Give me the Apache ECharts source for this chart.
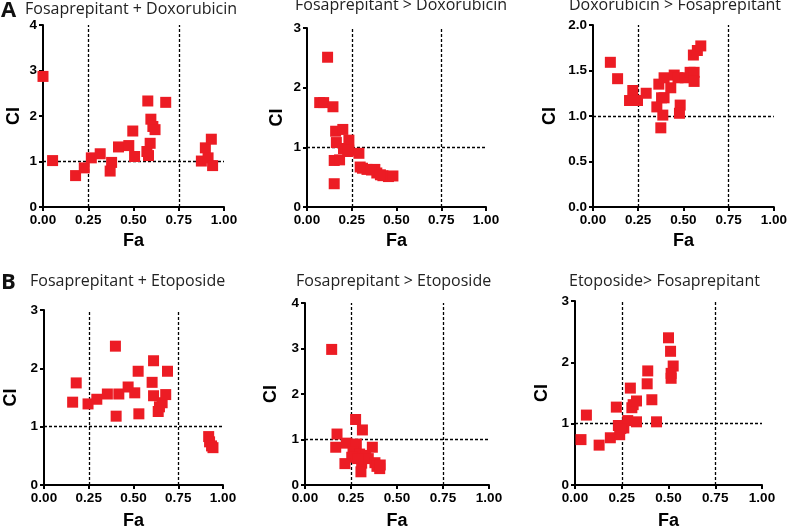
<!DOCTYPE html>
<html><head><meta charset="utf-8">
<script src="https://cdn.jsdelivr.net/npm/echarts@6/dist/echarts.min.js"></script>
<style>html,body{margin:0;padding:0;background:#fff}#c{width:790px;height:531px}</style>
</head><body><div id="c"></div>
<script>
// ---- data (Fa, CI) ----
const xTickValues = [0, 0.25, 0.5, 0.75, 1];
const panelTitles = ['Fosaprepitant + Doxorubicin', 'Fosaprepitant > Doxorubicin', 'Doxorubicin > Fosaprepitant',
  'Fosaprepitant + Etoposide', 'Fosaprepitant > Etoposide', 'Etoposide> Fosaprepitant'];
const panelLetters = ['A', 'B'];
const yMaxes = [4, 3, 2, 3, 4, 3];
const yIntervals = [1, 1, 0.5, 1, 1, 1];
const refFa = [0.25, 0.75];
const refCi = [1];

const fosDoxComb = [[0.00,2.87],[0.053,1.02],[0.18,0.69],[0.228,0.86],[0.267,1.08],[0.316,1.17],[0.379,0.98],[0.371,0.79],[0.417,1.32],[0.474,1.35],[0.496,1.67],[0.506,1.11],[0.579,2.33],[0.678,2.30],[0.596,1.93],[0.607,1.77],[0.619,1.70],[0.592,1.40],[0.574,1.22],[0.583,1.13],[0.875,1.01],[0.897,1.30],[0.912,1.08],[0.93,1.49],[0.937,0.91]];
const fosThenDox = [[0.115,2.51],[0.071,1.75],[0.093,1.75],[0.145,1.68],[0.16,1.27],[0.20,1.30],[0.164,1.08],[0.204,0.98],[0.234,1.12],[0.234,0.95],[0.152,0.78],[0.182,0.79],[0.152,0.39],[0.29,0.90],[0.297,0.67],[0.335,0.63],[0.379,0.63],[0.39,0.57],[0.424,0.525],[0.455,0.51],[0.48,0.52],[0.227,0.93],[0.31,0.65],[0.36,0.62],[0.41,0.54]];
const doxThenFos = [[0.096,1.59],[0.136,1.41],[0.22,1.28],[0.202,1.17],[0.246,1.17],[0.294,1.25],[0.364,1.35],[0.393,1.42],[0.379,1.20],[0.393,1.20],[0.353,1.10],[0.386,1.01],[0.375,0.87],[0.43,1.31],[0.449,1.45],[0.47,1.42],[0.51,1.42],[0.482,1.12],[0.478,1.03],[0.537,1.48],[0.559,1.48],[0.559,1.38],[0.555,1.67],[0.577,1.72],[0.596,1.77]];
const fosEtoComb = [[0.16,1.42],[0.18,1.75],[0.246,1.39],[0.295,1.47],[0.354,1.56],[0.399,2.38],[0.403,1.18],[0.418,1.56],[0.47,1.68],[0.507,1.58],[0.526,1.95],[0.53,1.22],[0.612,2.13],[0.604,1.76],[0.612,1.53],[0.638,1.26],[0.645,1.34],[0.66,1.41],[0.68,1.55],[0.69,1.95],[0.92,0.83],[0.925,0.74],[0.936,0.67],[0.944,0.64]];
const fosThenEto = [[0.145,2.98],[0.275,1.44],[0.312,1.21],[0.174,1.12],[0.167,0.83],[0.225,0.92],[0.279,0.90],[0.261,0.73],[0.366,0.83],[0.297,0.68],[0.33,0.65],[0.254,0.61],[0.217,0.47],[0.308,0.48],[0.304,0.29],[0.344,0.58],[0.38,0.49],[0.391,0.41],[0.406,0.36],[0.409,0.44],[0.286,0.58]];
const etoThenFos = [[0.032,0.74],[0.061,1.14],[0.129,0.65],[0.189,0.77],[0.221,1.27],[0.232,0.97],[0.239,0.82],[0.261,0.93],[0.282,1.05],[0.296,1.58],[0.304,1.26],[0.311,1.31],[0.329,1.37],[0.329,1.03],[0.386,1.65],[0.389,1.86],[0.411,1.39],[0.436,1.03],[0.5,2.40],[0.511,2.18],[0.525,1.94],[0.514,1.82],[0.514,1.74],[0.245,0.92]];
const panelData = [fosDoxComb, fosThenDox, doxThenFos, fosEtoComb, fosThenEto, etoThenFos];

// ---- layout ----
const grids = [
  {left:43, top:25, width:181, height:182},
  {left:307, top:28, width:179, height:179},
  {left:593, top:25, width:181, height:182},
  {left:44, top:310, width:179, height:179},
  {left:305, top:303, width:184, height:183},
  {left:575, top:301, width:187, height:185}
];
const yNameGaps = [20, 21, 34, 24, 25, 24];
const titlePos = [[25,1],[295,-3],[569,-3],[30,273],[296,273],[569,273]];
const letterPos = [[1,0],[1,272]];
const RED = '#ec1c24';
const tickFont = {color:'#000', fontFamily:'Liberation Sans, Arial, sans-serif', fontWeight:'bold', fontSize:13.5};
const nameFont = {color:'#000', fontFamily:'Liberation Sans, Arial, sans-serif', fontWeight:'bold', fontSize:18};

const option = {animation:false, backgroundColor:'#fff', grid:[], xAxis:[], yAxis:[], series:[], graphic:[]};
for (let i = 0; i < 6; i++) {
  const g = grids[i];
  option.grid.push(Object.assign({containLabel:false}, g));
  const bottomRow = i >= 3;
  option.xAxis.push({
    gridIndex:i, type:'value', min:xTickValues[0], max:xTickValues[xTickValues.length-1], interval:0.25,
    splitLine:{show:false},
    axisLine:{show:true, onZero:false, lineStyle:{color:'#000', width:2}},
    axisTick:{show:true, length:4, lineStyle:{color:'#000', width:2}},
    axisLabel:Object.assign({margin:6, formatter:v=>v.toFixed(2)}, tickFont),
    name:'Fa', nameLocation:'middle', nameGap:bottomRow?27:25,
    nameTextStyle:nameFont
  });
  const dec = yIntervals[i] < 1 ? 1 : 0;
  option.yAxis.push({
    gridIndex:i, type:'value', min:0, max:yMaxes[i], interval:yIntervals[i],
    splitLine:{show:false},
    axisLine:{show:true, onZero:false, lineStyle:{color:'#000', width:2}},
    axisTick:{show:true, length:4, lineStyle:{color:'#000', width:2}},
    axisLabel:Object.assign({margin:6, formatter:v=>v.toFixed(dec)}, tickFont),
    name:'CI', nameLocation:'middle', nameGap:yNameGaps[i], nameRotate:90,
    nameTextStyle:nameFont
  });
  option.series.push({
    type:'scatter', xAxisIndex:i, yAxisIndex:i, data:panelData[i],
    symbol:'rect', symbolSize:11, clip:false,
    itemStyle:{color:RED, opacity:1},
    z:3,
    markLine:{
      silent:true, symbol:['none','none'], label:{show:false}, z:2,
      lineStyle:{type:[3,2], color:'#000', width:1.3},
      data: refFa.map(v=>({xAxis:v})).concat(refCi.map(v=>({yAxis:v})))
    }
  });
  option.graphic.push({
    type:'text', left:titlePos[i][0], top:titlePos[i][1],
    style:{text:panelTitles[i], font:'16px "Open Sans", sans-serif', fill:'#222'}
  });
}
panelLetters.forEach((L, k) => {
  option.graphic.push({
    type:'text', left:letterPos[k][0], top:letterPos[k][1],
    style:{text:L, font:'bold 22px "Open Sans", sans-serif', fill:'#111'}
  });
});
const chart = echarts.init(document.getElementById('c'), null, {renderer:'canvas'});
chart.setOption(option);
</script>
</body></html>
